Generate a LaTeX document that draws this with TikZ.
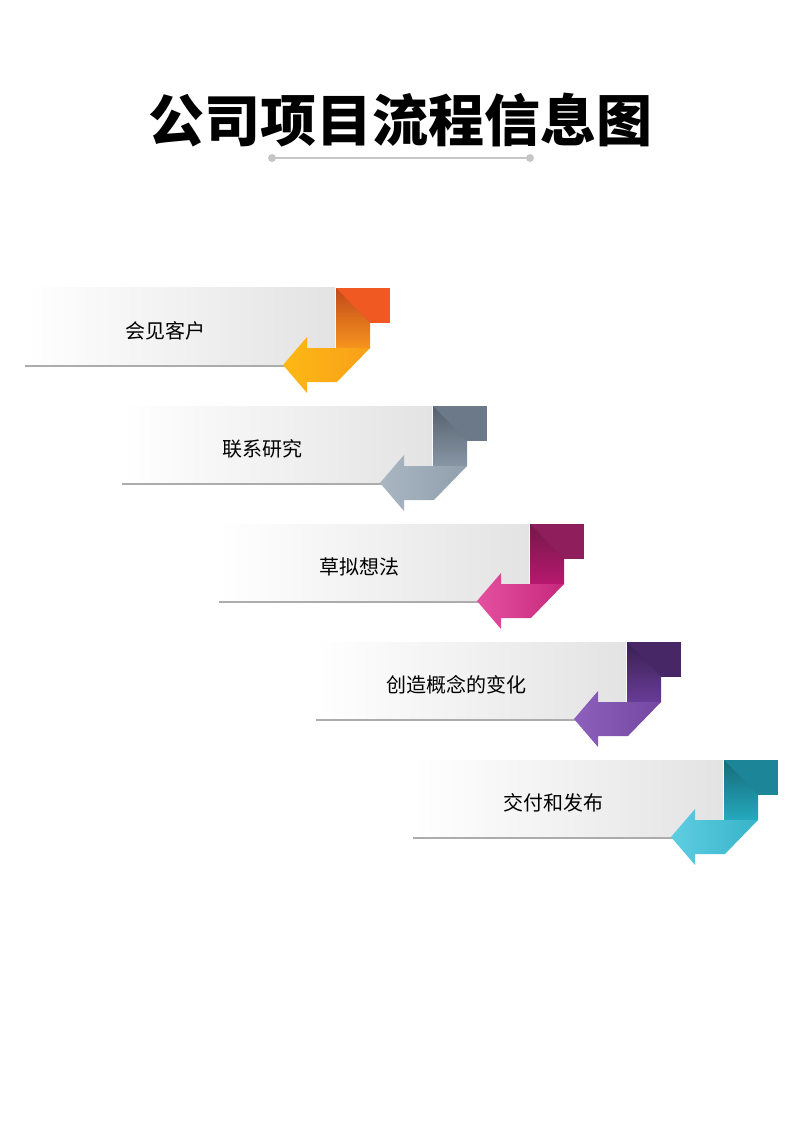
\documentclass[tikz,border=0pt]{standalone}
\usepackage{fontspec}
\setmainfont{Noto Sans CJK SC}
\usetikzlibrary{positioning}

\definecolor{orgA}{HTML}{F05A22}\definecolor{orgB}{HTML}{F7941D}\definecolor{orgC}{HTML}{FDB913}
\definecolor{gryA}{HTML}{6B7989}\definecolor{gryB}{HTML}{8796A5}\definecolor{gryC}{HTML}{A9B6C2}
\definecolor{magA}{HTML}{8E1F5C}\definecolor{magB}{HTML}{B8186E}\definecolor{magC}{HTML}{E5509F}
\definecolor{purA}{HTML}{472766}\definecolor{purB}{HTML}{683C97}\definecolor{purC}{HTML}{8C60BB}
\definecolor{tealA}{HTML}{1C8597}\definecolor{tealB}{HTML}{25A9BE}\definecolor{tealC}{HTML}{5FCDE2}

\tikzset{
  band/.style={left color=white, right color=gray!22, draw=none},
  steptext/.style={font=\fontsize{20}{24}\selectfont, text=black},
}

% one step: #1 shift, #2 #3 #4 colours, #5 name, #6 text
\newcommand{\stepunit}[6]{
  \begin{scope}[shift={#1}]
    \fill[band] (0,0) rectangle (310,78);
    \draw[gray!65, line width=1.6pt] (0,78) -- (310,78);
    \fill[#2] (311,0) rectangle (365,35);
    \shade[top color=#2!80!black, bottom color=#3] (311,0) -- (345,35) -- (345,60) -- (311,60) -- cycle;
    \shade[left color=#4, right color=#3!70!#4] (258,77) -- (282,49) -- (282,60) -- (345,60)
      -- (312,94) -- (282,94) -- (282,105) -- cycle;
    \node[steptext] (#5) at (140,43) {#6};
  \end{scope}
}

\begin{document}
\begin{tikzpicture}[x=1pt, y=-1pt]
  \useasboundingbox (0,0) rectangle (800,1131);

  \node[font=\fontsize{56}{60}\selectfont\bfseries] (title) at (400,120) {公司项目流程信息图};
  \draw[gray!45, line width=2pt] (272,158) -- (530,158);
  \fill[gray!45] (272,158) circle (4) (530,158) circle (4);

  \stepunit{(25,288)}{orgA}{orgB}{orgC}{meet}{会见客户}
  \stepunit{(122,406)}{gryA}{gryB}{gryC}{study}{联系研究}
  \stepunit{(219,524)}{magA}{magB}{magC}{draft}{草拟想法}
  \stepunit{(316,642)}{purA}{purB}{purC}{concept}{创造概念的变化}
  \stepunit{(413,760)}{tealA}{tealB}{tealC}{deliver}{交付和发布}
\end{tikzpicture}
\end{document}
